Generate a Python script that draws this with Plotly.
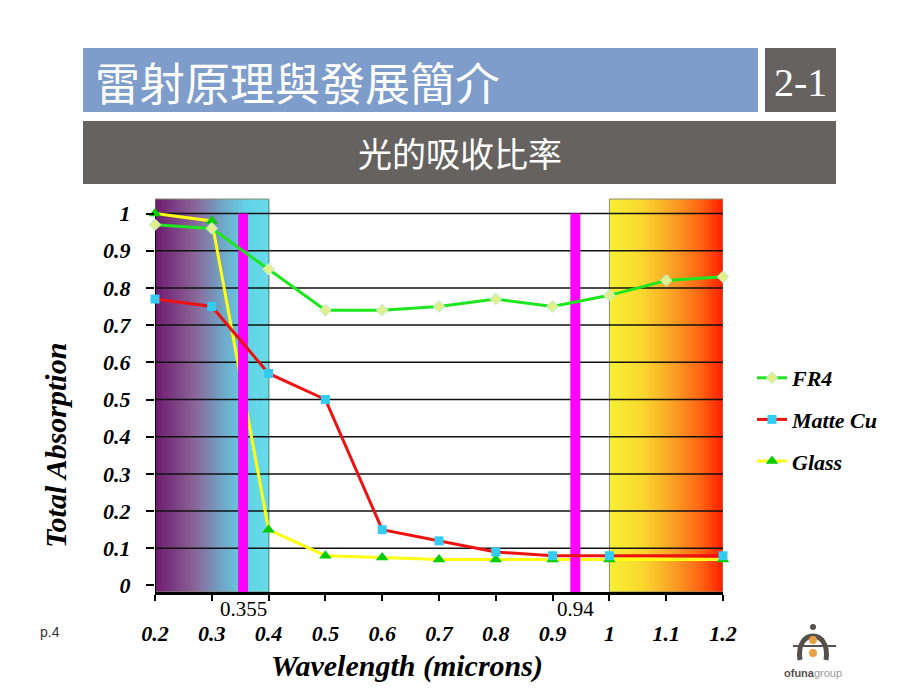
import plotly.graph_objects as go
from plotly.colors import sample_colorscale

# values
wavelength = [0.2, 0.3, 0.4, 0.5, 0.6, 0.7, 0.8, 0.9, 1.0, 1.1, 1.2]
fr4 = [0.97, 0.96, 0.85, 0.74, 0.74, 0.75, 0.77, 0.75, 0.78, 0.82, 0.83]

cu_wavelength = [0.2, 0.3, 0.4, 0.5, 0.6, 0.7, 0.8, 0.9, 1.0, 1.2]
matte_cu = [0.77, 0.75, 0.57, 0.50, 0.15, 0.12, 0.09, 0.08, 0.08, 0.08]

glass_wavelength = [0.2, 0.3, 0.4, 0.5, 0.6, 0.7, 0.8, 0.9, 1.0, 1.2]
glass = [1.0, 0.98, 0.15, 0.08, 0.075, 0.07, 0.07, 0.07, 0.07, 0.07]

laser_lines = [0.355, 0.94]
laser_labels = ["0.355", "0.94"]
uv_band = [0.2, 0.4]
ir_band = [1.0, 1.2]

x_ticks = [0.2, 0.3, 0.4, 0.5, 0.6, 0.7, 0.8, 0.9, 1.0, 1.1, 1.2]
x_ticktext = ["0.2", "0.3", "0.4", "0.5", "0.6", "0.7", "0.8", "0.9", "1", "1.1", "1.2"]
y_ticks = [0, 0.1, 0.2, 0.3, 0.4, 0.5, 0.6, 0.7, 0.8, 0.9, 1.0]
y_ticktext = ["0", "0.1", "0.2", "0.3", "0.4", "0.5", "0.6", "0.7", "0.8", "0.9", "1"]

# page has an 8px body margin, so the figure is drawn a bit smaller and
# all positions below are given in screen pixels
OFF = 8
W, H = 920 - OFF, 690 - OFF
L, R, T, B = 155, 723, 199, 592
Y_MIN, Y_MAX = -0.0175, 1.039

SERIF = "Liberation Serif, Times New Roman, serif"
CJK = "Noto Sans CJK TC"


def px(x):
    return (x - L) / (R - L)


def py(y):
    return (B - y) / (B - T)


def bi(size, color="black"):
    return dict(family=SERIF, size=size, color=color, weight="bold", style="italic")


shapes = []


def gradient_band(x0, x1, scale, n=60):
    cols = sample_colorscale(scale, [(i + 0.5) / n for i in range(n)])
    step = (x1 - x0) / n
    for i, c in enumerate(cols):
        shapes.append(dict(type="rect", xref="x", yref="y domain", layer="below",
                           x0=x0 + i * step, x1=x0 + (i + 1) * step + step * 0.6,
                           y0=0, y1=1, fillcolor=c, line_width=0))
    shapes.append(dict(type="rect", xref="x", yref="y domain", layer="below",
                       x0=x0, x1=x1, y0=0, y1=1, line=dict(color="#8a8a70", width=1)))


gradient_band(uv_band[0], uv_band[1],
              [[0, "#6e1a6e"], [0.35, "#8a6598"], [0.6, "#70a8c8"],
               [0.8, "#64d2e6"], [1, "#66dcea"]])
gradient_band(ir_band[0], ir_band[1],
              [[0, "#f6f036"], [0.3, "#f9d62e"], [0.55, "#f9a326"],
               [0.8, "#ff6614"], [1, "#ff1e00"]])

# horizontal grid (no line at 0)
for v in y_ticks[1:]:
    shapes.append(dict(type="line", xref="x", yref="y", layer="below",
                       x0=x_ticks[0], x1=x_ticks[-1], y0=v, y1=v,
                       line=dict(color="#111111", width=1.5)))
# y axis line
shapes.append(dict(type="line", xref="x", yref="y", layer="below",
                   x0=x_ticks[0], x1=x_ticks[0], y0=Y_MIN, y1=1.0,
                   line=dict(color="black", width=2)))

# header bars
shapes += [
    dict(type="rect", xref="paper", yref="paper", layer="above",
         x0=px(83), x1=px(758), y0=py(112), y1=py(48), fillcolor="#7e9dca", line_width=0),
    dict(type="rect", xref="paper", yref="paper", layer="above",
         x0=px(765), x1=px(836), y0=py(112), y1=py(48), fillcolor="#66625f", line_width=0),
    dict(type="rect", xref="paper", yref="paper", layer="above",
         x0=px(83), x1=px(836), y0=py(184), y1=py(121), fillcolor="#66625f", line_width=0),
]

# small logo
shapes += [
    dict(type="circle", xref="paper", yref="paper", layer="above",
         x0=px(810), x1=px(816), y0=py(630), y1=py(624), fillcolor="#55504c", line_width=0),
    dict(type="path", xref="paper", yref="paper", layer="above",
         path="M {},{} C {},{} {},{} {},{}".format(px(800), py(660), px(795), py(628),
                                                   px(831), py(628), px(826), py(660)),
         line=dict(color="#55504c", width=5)),
    dict(type="line", xref="paper", yref="paper", layer="above",
         x0=px(793), x1=px(836), y0=py(646), y1=py(646), line=dict(color="#55504c", width=2)),
    dict(type="circle", xref="paper", yref="paper", layer="above",
         x0=px(809), x1=px(817), y0=py(644), y1=py(636), fillcolor="#e8a040", line_width=0),
    dict(type="circle", xref="paper", yref="paper", layer="above",
         x0=px(809), x1=px(817), y0=py(657), y1=py(649), fillcolor="#e8a040", line_width=0),
]

fig = go.Figure()

fig.add_trace(go.Scatter(
    x=glass_wavelength, y=glass, name="Glass", mode="lines+markers",
    line=dict(color="#ffff14", width=3),
    marker=dict(symbol="triangle-up", size=11, color="#00cc00"),
    cliponaxis=False, legendgroup="c", legendrank=3))

for wl in laser_lines:
    fig.add_trace(go.Scatter(
        x=[wl, wl], y=[Y_MIN, 1.0], mode="lines", showlegend=False,
        line=dict(color="#ff00ff", width=10), hoverinfo="skip"))

fig.add_trace(go.Scatter(
    x=wavelength, y=fr4, name="FR4", mode="lines+markers",
    line=dict(color="#1ee61e", width=3),
    marker=dict(symbol="diamond", size=9, color="#e2f08c",
                line=dict(color="#b8ecd8", width=1)),
    cliponaxis=False, legendgroup="a", legendrank=1))

fig.add_trace(go.Scatter(
    x=cu_wavelength, y=matte_cu, name="Matte Cu", mode="lines+markers",
    line=dict(color="#ee1111", width=3),
    marker=dict(symbol="square", size=9, color="#33ccf0"),
    cliponaxis=False, legendgroup="b", legendrank=2))

annotations = [
    dict(text="雷射原理與發展簡介", x=px(93), y=py(81), xanchor="left", yanchor="middle",
         font=dict(family=CJK, size=45, color="white")),
    dict(text="2-1", x=px(800), y=py(82), xanchor="center", yanchor="middle",
         font=dict(family=SERIF, size=40, color="white")),
    dict(text="光的吸收比率", x=px(460), y=py(153), xanchor="center", yanchor="middle",
         font=dict(family=CJK, size=34, color="white")),
    dict(text="Total Absorption", x=px(55), y=py(446), textangle=-90,
         xanchor="center", yanchor="middle", font=bi(30)),
    dict(text="Wavelength (microns)", x=px(407), y=py(666),
         xanchor="center", yanchor="middle", font=bi(30)),
    dict(text="p.4", x=px(50), y=py(632), xanchor="center", yanchor="middle",
         font=dict(family="Liberation Sans", size=14, color="#333333")),
    dict(text="<b>ofuna</b><span style='color:#9a9a9a'>group</span>", x=px(813), y=py(673),
         xanchor="center", yanchor="middle",
         font=dict(family="Liberation Sans", size=11, color="#55504c")),
]
for wl, lab in zip(laser_lines, laser_labels):
    annotations.append(dict(text=lab, x=wl, xref="x", y=py(609), yref="paper",
                            xanchor="center", yanchor="middle", showarrow=False,
                            font=dict(family=SERIF, size=21, color="black")))
for a in annotations:
    a.setdefault("xref", "paper")
    a.setdefault("yref", "paper")
    a["showarrow"] = False

fig.update_layout(
    width=W, height=H,
    margin=dict(l=L - OFF, r=W - (R - OFF), t=T - OFF, b=H - (B - OFF)),
    paper_bgcolor="white", plot_bgcolor="rgba(0,0,0,0)",
    shapes=shapes, annotations=annotations,
    showlegend=True,
    legend=dict(x=px(752), y=py(357), xanchor="left", yanchor="top",
                font=bi(22), tracegroupgap=10, bgcolor="rgba(0,0,0,0)",
                itemwidth=30),
    xaxis=dict(range=[x_ticks[0], x_ticks[-1]], tickvals=x_ticks, ticktext=x_ticktext,
               showgrid=False, zeroline=False, showline=True, linecolor="black",
               linewidth=3, ticks="outside", ticklen=6, tickwidth=2, tickcolor="black",
               tickfont=bi(22), ticklabelstandoff=14),
    yaxis=dict(range=[Y_MIN, Y_MAX], tickvals=y_ticks, ticktext=y_ticktext,
               showgrid=False, zeroline=False, showline=False,
               ticks="outside", ticklen=8, tickwidth=2, tickcolor="black",
               tickfont=bi(22), ticklabelstandoff=11),
)

fig.write_html("out.html")
